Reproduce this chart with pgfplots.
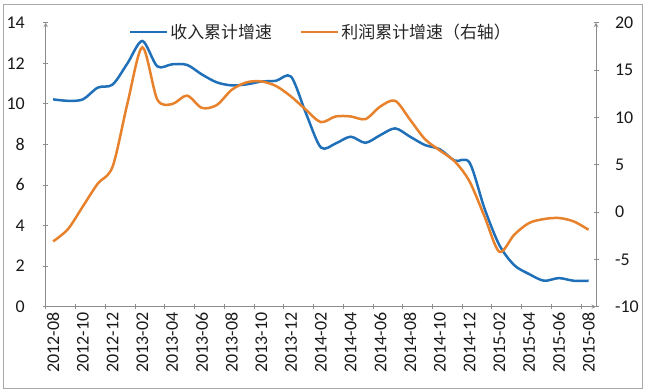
\documentclass[border=0pt]{standalone}
\usepackage{fontspec}
\setmainfont{Carlito}
\newfontfamily\cjk{Noto Sans CJK SC}
\usepackage{pgfplots}
\pgfplotsset{compat=1.18}
\usepackage{pgfplotstable}

\definecolor{cblue}{HTML}{1F70B8}
\definecolor{corange}{HTML}{E8812C}
\definecolor{axgray}{HTML}{8C8C8C}
\definecolor{framegray}{HTML}{A8A8A8}

\pgfplotstableread{
k inc prof
0 10.22 -3.1
1 10.15 -1.8
2 10.22 0.6
3 10.80 3.0
4 10.95 4.8
5 12.00 11.5
6 13.10 17.4
7 11.85 11.9
8 11.95 11.4
9 11.92 12.3
10 11.45 11.0
11 11.06 11.3
12 10.91 12.9
13 10.96 13.7
14 11.10 13.8
15 11.14 13.3
16 11.34 12.2
17 9.53 10.8
18 7.85 9.5
19 8.05 10.1
20 8.38 10.1
21 8.08 9.82
22 8.46 11.15
23 8.79 11.75
24 8.38 9.75
25 7.97 7.7
26 7.76 6.5
27 7.20 5.35
28 7.10 3.23
29 4.85 -0.46
30 3.04 -4.2
31 2.05 -2.4
32 1.61 -1.16
33 1.28 -0.74
34 1.41 -0.63
35 1.28 -0.99
36 1.28 -1.87
}\data

\begin{document}
\begin{tikzpicture}
\useasboundingbox (-45.7bp,-84.3bp) rectangle (602.3bp,306.7bp);
\pgfplotsset{
  base/.style={
    scale only axis, width=550.3bp, height=284bp,
    xmin=-0.5, xmax=36.5,
    at={(0,0)}, anchor=south west,
    tick align=outside,
    major tick length=5bp, minor tick length=5bp,
    every tick/.style={axgray, line width=0.8bp},
    axis line style={-, axgray, line width=1bp},
    tick label style={font=\fontsize{18}{18}\selectfont, text=black!90},
    /pgf/number format/assume math mode=true,
  },
}
\begin{axis}[base,
  axis x line=bottom, axis y line=left,
  ymin=0, ymax=14, ytick={0,2,...,14},
  yticklabel style={xshift=-15bp},
  xtick={0,2,...,36},
  xticklabels={2012-08,2012-10,2012-12,2013-02,2013-04,2013-06,2013-08,2013-10,2013-12,2014-02,2014-04,2014-06,2014-08,2014-10,2014-12,2015-02,2015-04,2015-06,2015-08},
  minor xtick={-0.5,1.5,...,35.5},
  major x tick style={draw=none},
  x tick label style={rotate=90, anchor=east},
]
\addplot[cblue, line width=2.5bp, smooth] table[x=k, y=inc] {\data};
\end{axis}
\begin{axis}[base,
  axis y line=right, axis x line=none,
  ymin=-10, ymax=20, ytick={-10,-5,...,20},
  yticklabels={-10,-5,0,5,10,15,20},
  yticklabel style={anchor=west, xshift=13bp},
  xtick=\empty,
  legend columns=2,
  legend style={draw=none, fill=none, at={(0.5,0.968)}, anchor=center,
    font=\fontsize{17}{17}\selectfont\cjk, text=black!85,
    /tikz/every even column/.append style={column sep=26bp}},
  legend image code/.code={\draw[#1] (0bp,0bp) -- (37bp,0bp);},
]
\addlegendimage{cblue, line width=2.5bp}
\addlegendentry{收入累计增速}
\addplot[corange, line width=2.5bp, smooth] table[x=k, y=prof] {\data};
\addlegendentry{利润累计增速（右轴）}
\end{axis}
\draw[framegray, line width=1.2bp] (-42.4bp,-81.6bp) rectangle (596.6bp,302.4bp);
\end{tikzpicture}
\end{document}
